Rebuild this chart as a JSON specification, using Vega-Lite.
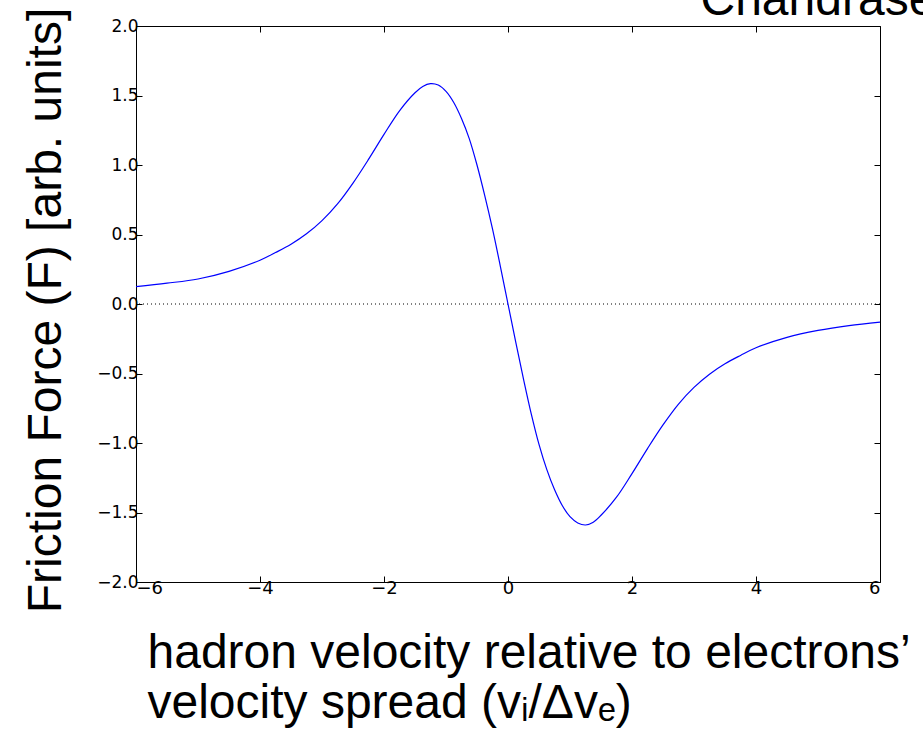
{
  "$schema": "https://vega.github.io/schema/vega-lite/v6.json",
  "width": 744,
  "height": 556,
  "autosize": {"type": "none"},
  "padding": {"left": 136, "top": 26, "right": 43, "bottom": 149},
  "background": "white",
  "config": {
    "view": {"stroke": "black", "strokeWidth": 1},
    "axis": {
      "grid": false,
      "domain": false,
      "tickColor": "black",
      "tickSize": -6,
      "tickWidth": 1,
      "labelColor": "black",
      "titleColor": "black",
      "labelFont": "DejaVu Sans",
      "labelFontSize": 17,
      "titleFont": "Liberation Sans",
      "titleFontWeight": "normal",
      "titleFontSize": 48
    }
  },
  "datasets": {
    "curve": [
      {"v": -6.0, "F": 0.125},
      {"v": -5.5, "F": 0.15},
      {"v": -5.0, "F": 0.18},
      {"v": -4.5, "F": 0.235},
      {"v": -4.0, "F": 0.315},
      {"v": -3.75, "F": 0.37},
      {"v": -3.5, "F": 0.43},
      {"v": -3.25, "F": 0.505},
      {"v": -3.0, "F": 0.6},
      {"v": -2.75, "F": 0.72},
      {"v": -2.5, "F": 0.87},
      {"v": -2.25, "F": 1.04},
      {"v": -2.0, "F": 1.22},
      {"v": -1.75, "F": 1.39},
      {"v": -1.5, "F": 1.52},
      {"v": -1.375, "F": 1.565},
      {"v": -1.25, "F": 1.585},
      {"v": -1.125, "F": 1.575},
      {"v": -1.0, "F": 1.53},
      {"v": -0.875, "F": 1.45},
      {"v": -0.75, "F": 1.335},
      {"v": -0.625, "F": 1.19},
      {"v": -0.5, "F": 1.0},
      {"v": -0.375, "F": 0.78},
      {"v": -0.25, "F": 0.54},
      {"v": -0.125, "F": 0.275},
      {"v": 0.0, "F": 0.0},
      {"v": 0.125, "F": -0.275},
      {"v": 0.25, "F": -0.54},
      {"v": 0.375, "F": -0.79},
      {"v": 0.5, "F": -1.01},
      {"v": 0.625, "F": -1.19},
      {"v": 0.75, "F": -1.335},
      {"v": 0.875, "F": -1.45},
      {"v": 1.0, "F": -1.53},
      {"v": 1.125, "F": -1.575},
      {"v": 1.25, "F": -1.59},
      {"v": 1.375, "F": -1.57},
      {"v": 1.5, "F": -1.52},
      {"v": 1.75, "F": -1.39},
      {"v": 2.0, "F": -1.22},
      {"v": 2.25, "F": -1.04},
      {"v": 2.5, "F": -0.87},
      {"v": 2.75, "F": -0.72},
      {"v": 3.0, "F": -0.6},
      {"v": 3.25, "F": -0.505},
      {"v": 3.5, "F": -0.43},
      {"v": 3.75, "F": -0.37},
      {"v": 4.0, "F": -0.315},
      {"v": 4.5, "F": -0.24},
      {"v": 5.0, "F": -0.19},
      {"v": 5.5, "F": -0.155},
      {"v": 6.0, "F": -0.13}
    ],
    "zero": [{"F": 0}]
  },
  "layer": [
    {
      "data": {"name": "zero"},
      "mark": {"type": "rule", "color": "black", "strokeWidth": 1, "strokeDash": [1, 3]},
      "encoding": {
        "y": {"field": "F", "type": "quantitative", "axis": null}
      }
    },
    {
      "data": {"name": "curve"},
      "mark": {"type": "line", "color": "#0000ff", "strokeWidth": 1.2, "interpolate": "catmull-rom"},
      "encoding": {
        "x": {
          "field": "v",
          "type": "quantitative",
          "scale": {"domain": [-6, 6], "nice": false, "zero": false},
          "axis": {
            "orient": "bottom",
            "values": [-6, -4, -2, 0, 2, 4, 6],
            "format": "d",
            "labelFontSize": 18,
            "labelPadding": 3,
            "title": ["hadron velocity relative to electrons’", "velocity spread (vᵢ/Δvₑ)"],
            "titleAnchor": "start",
            "titleAlign": "left",
            "titleBaseline": "alphabetic",
            "titleX": 11,
            "titleY": 85,
            "titleLineHeight": 50
          }
        },
        "y": {
          "field": "F",
          "type": "quantitative",
          "scale": {"domain": [-2, 2], "nice": false, "zero": false},
          "axis": {
            "orient": "left",
            "values": [-2, -1.5, -1, -0.5, 0, 0.5, 1, 1.5, 2],
            "format": ".1f",
            "labelFontSize": 17,
            "labelPadding": 4,
            "title": "Friction Force (F) [arb. units]",
            "titleAngle": -90,
            "titleAlign": "center",
            "titleBaseline": "alphabetic",
            "titleX": -76,
            "titleY": 284
          }
        }
      }
    },
    {
      "data": {"name": "curve"},
      "mark": {"type": "line", "opacity": 0},
      "encoding": {
        "x": {
          "field": "v",
          "type": "quantitative",
          "axis": {
            "orient": "top",
            "values": [-6, -4, -2, 0, 2, 4, 6],
            "labels": false,
            "title": "Chandrasekhar friction force",
            "titleAnchor": "start",
            "titleAlign": "left",
            "titleBaseline": "alphabetic",
            "titleAngle": 0,
            "titleX": 564,
            "titleY": -12
          }
        },
        "y": {
          "field": "F",
          "type": "quantitative",
          "axis": {"orient": "right", "values": [-2, -1.5, -1, -0.5, 0, 0.5, 1, 1.5, 2], "labels": false, "title": null}
        }
      }
    }
  ],
  "resolve": {"axis": {"x": "independent", "y": "independent"}}
}
